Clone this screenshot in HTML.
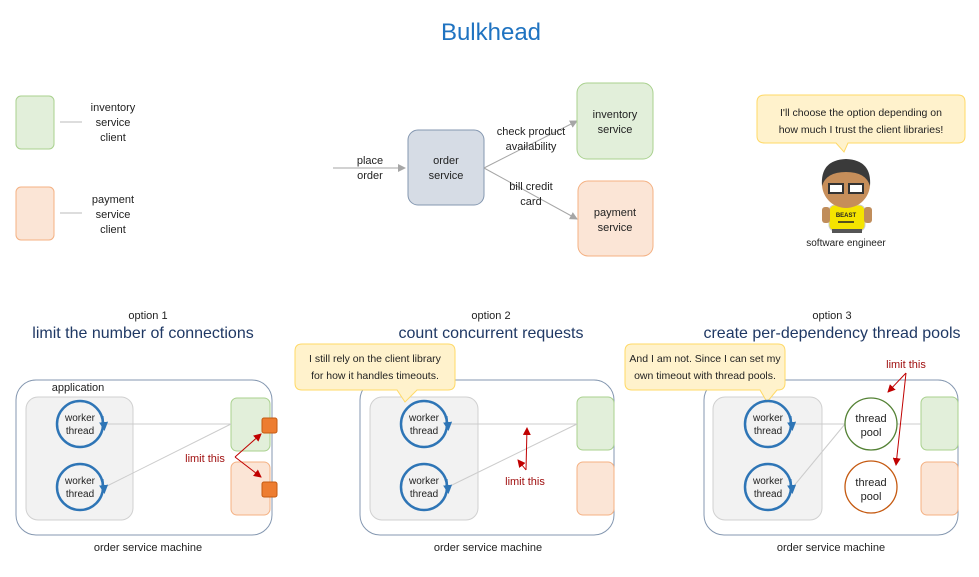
<!DOCTYPE html>
<html><head><meta charset="utf-8"><style>
html,body{margin:0;padding:0;background:#fff}
svg{display:block}
text{font-family:"Liberation Sans",sans-serif;fill:#222}
</style></head><body>
<svg width="979" height="577" viewBox="0 0 979 577" xmlns="http://www.w3.org/2000/svg">
<defs>
<marker id="ag" markerWidth="8" markerHeight="8" refX="7" refY="4" orient="auto" markerUnits="userSpaceOnUse"><path d="M0,0 L8,4 L0,8 z" fill="#a6a6a6"/></marker>
<marker id="ar" markerWidth="8" markerHeight="8" refX="7" refY="4" orient="auto" markerUnits="userSpaceOnUse"><path d="M0,0 L8,4 L0,8 z" fill="#c00000"/></marker>
<marker id="ab" markerWidth="9" markerHeight="9" refX="4" refY="4.5" orient="auto" markerUnits="userSpaceOnUse"><path d="M0,0 L9,4.5 L0,9 z" fill="#2e75b6"/></marker>
</defs>
<text x="491" y="40" font-size="24" text-anchor="middle" style="fill:#1f73c1">Bulkhead</text>

<rect x="16" y="96" width="38" height="53" rx="5" fill="#e2efda" stroke="#a9d18e"/>
<line x1="60" y1="122" x2="82" y2="122" stroke="#bbb"/>
<g font-size="11" text-anchor="middle"><text x="113" y="111">inventory</text><text x="113" y="126">service</text><text x="113" y="141">client</text></g>
<rect x="16" y="187" width="38" height="53" rx="5" fill="#fbe5d6" stroke="#f4b183"/>
<line x1="60" y1="213" x2="82" y2="213" stroke="#bbb"/>
<g font-size="11" text-anchor="middle"><text x="113" y="203">payment</text><text x="113" y="218">service</text><text x="113" y="233">client</text></g>

<line x1="333" y1="168" x2="405" y2="168" stroke="#a6a6a6" marker-end="url(#ag)"/>
<g font-size="11" text-anchor="middle"><text x="370" y="164">place</text><text x="370" y="179">order</text></g>
<rect x="408" y="130" width="76" height="75" rx="10" fill="#d6dce5" stroke="#8497b0"/>
<g font-size="11" text-anchor="middle"><text x="446" y="164">order</text><text x="446" y="179">service</text></g>
<line x1="484" y1="168" x2="577" y2="121" stroke="#a6a6a6" marker-end="url(#ag)"/>
<line x1="484" y1="168" x2="577" y2="219" stroke="#a6a6a6" marker-end="url(#ag)"/>
<g font-size="11" text-anchor="middle"><text x="531" y="135">check product</text><text x="531" y="150">availability</text><text x="531" y="190">bill credit</text><text x="531" y="205">card</text></g>
<rect x="577" y="83" width="76" height="76" rx="10" fill="#e2efda" stroke="#a9d18e"/>
<g font-size="11" text-anchor="middle"><text x="615" y="118">inventory</text><text x="615" y="133">service</text></g>
<rect x="578" y="181" width="75" height="75" rx="10" fill="#fbe5d6" stroke="#f4b183"/>
<g font-size="11" text-anchor="middle"><text x="615" y="216">payment</text><text x="615" y="231">service</text></g>

<path d="M765,95 H958 Q965,95 965,102 V136 Q965,143 958,143 H848 L844,152 L836,143 H765 Q757,143 757,136 V102 Q757,95 765,95 Z" fill="#fff2cc" stroke="#ffd966"/>
<g font-size="10.5" text-anchor="middle"><text x="861" y="116">I'll choose the option depending on</text><text x="861" y="133">how much I trust the client libraries!</text></g>
<rect x="829" y="205" width="36" height="26" rx="6" fill="#f5e400" stroke="#ccc"/>
<rect x="822" y="207" width="8" height="16" rx="3" fill="#c08d5b"/>
<rect x="864" y="207" width="8" height="16" rx="3" fill="#c08d5b"/>
<rect x="832" y="229" width="30" height="4" fill="#555"/>
<circle cx="846" cy="184" r="24" fill="#c68e5a"/>
<path d="M822,186 Q820,160 846,159 Q872,160 870,186 Q866,172 846,172 Q826,172 822,186Z" fill="#3a3a3a"/>
<rect x="829" y="184" width="14" height="9" fill="#fff" stroke="#333" stroke-width="2"/>
<rect x="849" y="184" width="14" height="9" fill="#fff" stroke="#333" stroke-width="2"/>
<text x="846" y="217" font-size="6" font-weight="bold" text-anchor="middle">BEAST</text>
<line x1="838" y1="222" x2="854" y2="222" stroke="#222" stroke-width="1.5"/>
<text x="846" y="246" font-size="10" text-anchor="middle">software engineer</text>

<g text-anchor="middle">
<text x="148" y="319" font-size="11">option 1</text><text x="143" y="338" font-size="16" style="fill:#1f3864">limit the number of connections</text>
<text x="491" y="319" font-size="11">option 2</text><text x="491" y="338" font-size="16" style="fill:#1f3864">count concurrent requests</text>
<text x="832" y="319" font-size="11">option 3</text><text x="832" y="338" font-size="16" style="fill:#1f3864">create per-dependency thread pools</text>
</g>

<rect x="16" y="380" width="256" height="155" rx="20" fill="#fff" stroke="#8497b0"/>
<text x="78" y="391" font-size="11" text-anchor="middle">application</text>
<rect x="26" y="397" width="107" height="123" rx="12" fill="#f2f2f2" stroke="#d0d0d0"/>
<rect x="231" y="398" width="39" height="53" rx="6" fill="#e2efda" stroke="#a9d18e"/>
<rect x="231" y="462" width="39" height="53" rx="6" fill="#fbe5d6" stroke="#f4b183"/>
<line x1="105" y1="424" x2="231" y2="424" stroke="#ccc"/>
<line x1="105" y1="487" x2="231" y2="424" stroke="#ccc"/>
<rect x="262" y="418" width="15" height="15" rx="2" fill="#ed7d31" stroke="#c55a11"/>
<rect x="262" y="482" width="15" height="15" rx="2" fill="#ed7d31" stroke="#c55a11"/>
<text x="205" y="462" font-size="11" text-anchor="middle" style="fill:#a01010">limit this</text>
<path d="M235,457 L261,434" stroke="#c00000" fill="none" marker-end="url(#ar)"/>
<path d="M235,457 L261,477" stroke="#c00000" fill="none" marker-end="url(#ar)"/>
<text x="148" y="551" font-size="11" text-anchor="middle">order service machine</text>

<rect x="360" y="380" width="254" height="155" rx="20" fill="#fff" stroke="#8497b0"/>
<rect x="370" y="397" width="108" height="123" rx="12" fill="#f2f2f2" stroke="#d0d0d0"/>
<rect x="577" y="397" width="37" height="53" rx="6" fill="#e2efda" stroke="#a9d18e"/>
<rect x="577" y="462" width="37" height="53" rx="6" fill="#fbe5d6" stroke="#f4b183"/>
<line x1="448" y1="424" x2="577" y2="424" stroke="#ccc"/>
<line x1="448" y1="487" x2="577" y2="424" stroke="#ccc"/>
<path d="M526,470 L527,428" stroke="#c00000" fill="none" marker-end="url(#ar)"/>
<path d="M526,470 L518,460" stroke="#c00000" fill="none" marker-end="url(#ar)"/>
<text x="525" y="485" font-size="11" text-anchor="middle" style="fill:#a01010">limit this</text>
<path d="M302,344 H448 Q455,344 455,351 V383 Q455,390 448,390 H417 L405,402 L397,390 H302 Q295,390 295,383 V351 Q295,344 302,344 Z" fill="#fff2cc" stroke="#ffd966"/>
<g font-size="10.5" text-anchor="middle"><text x="375" y="362">I still rely on the client library</text><text x="375" y="379">for how it handles timeouts.</text></g>
<text x="488" y="551" font-size="11" text-anchor="middle">order service machine</text>

<rect x="704" y="380" width="254" height="155" rx="20" fill="#fff" stroke="#8497b0"/>
<rect x="713" y="397" width="109" height="123" rx="12" fill="#f2f2f2" stroke="#d0d0d0"/>
<rect x="921" y="397" width="37" height="53" rx="6" fill="#e2efda" stroke="#a9d18e"/>
<rect x="921" y="462" width="37" height="53" rx="6" fill="#fbe5d6" stroke="#f4b183"/>
<line x1="793" y1="424" x2="845" y2="424" stroke="#ccc"/>
<line x1="793" y1="487" x2="845" y2="424" stroke="#ccc"/>
<line x1="897" y1="424" x2="921" y2="424" stroke="#ccc"/>
<circle cx="871" cy="424" r="26" fill="#fff" stroke="#548235" stroke-width="1.3"/>
<circle cx="871" cy="487" r="26" fill="#fff" stroke="#c55a11" stroke-width="1.3"/>
<g font-size="11" text-anchor="middle"><text x="871" y="422">thread</text><text x="871" y="436">pool</text><text x="871" y="486">thread</text><text x="871" y="500">pool</text></g>
<text x="906" y="368" font-size="11" text-anchor="middle" style="fill:#a01010">limit this</text>
<path d="M906,373 L888,392" stroke="#c00000" fill="none" marker-end="url(#ar)"/>
<path d="M906,373 L896,465" stroke="#c00000" fill="none" marker-end="url(#ar)"/>
<path d="M632,344 H778 Q785,344 785,351 V383 Q785,390 778,390 H777 L767,402 L760,390 H632 Q625,390 625,383 V351 Q625,344 632,344 Z" fill="#fff2cc" stroke="#ffd966"/>
<g font-size="10.5" text-anchor="middle"><text x="705" y="362">And I am not. Since I can set my</text><text x="705" y="379">own timeout with thread pools.</text></g>
<text x="831" y="551" font-size="11" text-anchor="middle">order service machine</text>

<g font-size="10" text-anchor="middle" fill="none">
<circle cx="80" cy="424" r="23" fill="none" stroke="#2e75b6" stroke-width="2.5"/>
<circle cx="80" cy="487" r="23" fill="none" stroke="#2e75b6" stroke-width="2.5"/>
<circle cx="424" cy="424" r="23" fill="none" stroke="#2e75b6" stroke-width="2.5"/>
<circle cx="424" cy="487" r="23" fill="none" stroke="#2e75b6" stroke-width="2.5"/>
<circle cx="768" cy="424" r="23" fill="none" stroke="#2e75b6" stroke-width="2.5"/>
<circle cx="768" cy="487" r="23" fill="none" stroke="#2e75b6" stroke-width="2.5"/>
<path d="M103,416 L104,426" stroke="#2e75b6" marker-end="url(#ab)"/>
<path d="M103,479 L104,489" stroke="#2e75b6" marker-end="url(#ab)"/>
<path d="M447,416 L448,426" stroke="#2e75b6" marker-end="url(#ab)"/>
<path d="M447,479 L448,489" stroke="#2e75b6" marker-end="url(#ab)"/>
<path d="M791,416 L792,426" stroke="#2e75b6" marker-end="url(#ab)"/>
<path d="M791,479 L792,489" stroke="#2e75b6" marker-end="url(#ab)"/>
<text x="80" y="421">worker</text><text x="80" y="434">thread</text>
<text x="80" y="484">worker</text><text x="80" y="497">thread</text>
<text x="424" y="421">worker</text><text x="424" y="434">thread</text>
<text x="424" y="484">worker</text><text x="424" y="497">thread</text>
<text x="768" y="421">worker</text><text x="768" y="434">thread</text>
<text x="768" y="484">worker</text><text x="768" y="497">thread</text>
</g>
</svg>
</body></html>
